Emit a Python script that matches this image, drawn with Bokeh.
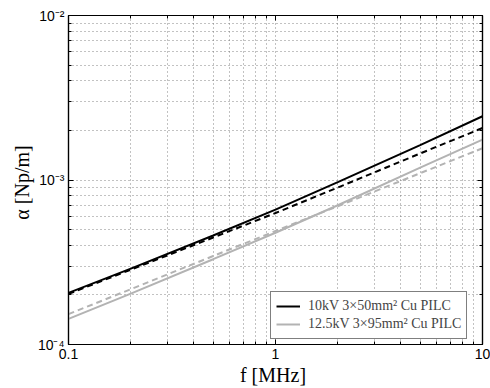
from bokeh.plotting import figure
from bokeh.models import FixedTicker, CustomJSTickFormatter, Legend, LegendItem, LogAxis
from bokeh.embed import file_html
from bokeh.resources import INLINE

# Data (frequency in MHz, attenuation in Np/m)
freq = [0.1, 0.2, 0.5, 1, 2, 5, 10]
a_10kv_solid = [2.06e-4, 2.89e-4, 4.60e-4, 6.6e-4, 9.7e-4, 1.63e-3, 2.44e-3]
a_10kv_dashed = [2.03e-4, 2.85e-4, 4.47e-4, 6.3e-4, 9.0e-4, 1.45e-3, 2.07e-3]
a_12kv_solid = [1.43e-4, 2.04e-4, 3.30e-4, 4.78e-4, 7.02e-4, 1.19e-3, 1.76e-3]
a_12kv_dashed = [1.53e-4, 2.17e-4, 3.45e-4, 4.90e-4, 6.93e-4, 1.10e-3, 1.56e-3]

x_ticks = [0.1, 1, 10]
x_minor = [0.2, 0.3, 0.4, 0.5, 0.6, 0.7, 0.8, 0.9, 2, 3, 4, 5, 6, 7, 8, 9]
y_ticks = [1e-4, 1e-3, 1e-2]
y_minor = [k * 1e-4 for k in range(2, 10)] + [k * 1e-3 for k in range(2, 10)]

labels = ["10kV 3×50mm² Cu PILC", "12.5kV 3×95mm² Cu PILC"]

GRAY = "#b3b3b3"

p = figure(width=490, height=388, x_axis_type="log", y_axis_type="log",
           x_range=(0.1, 10), y_range=(1e-4, 1e-2),
           output_backend="svg", toolbar_location=None,
           min_border_left=68, min_border_right=8, min_border_top=15, min_border_bottom=10)
p.background_fill_color = "white"
p.border_fill_color = "white"
p.outline_line_color = "black"
p.outline_line_width = 1.2

r1 = p.line(freq, a_10kv_solid, line_color="black", line_width=2)
p.line(freq, a_10kv_dashed, line_color="black", line_width=2, line_dash="6 4")
r2 = p.line(freq, a_12kv_solid, line_color=GRAY, line_width=2)
p.line(freq, a_12kv_dashed, line_color=GRAY, line_width=2, line_dash="6 4")

xt = FixedTicker(ticks=x_ticks, minor_ticks=x_minor)
yt = FixedTicker(ticks=y_ticks, minor_ticks=y_minor)

xfmt = CustomJSTickFormatter(code="return String(Math.round(tick*10)/10);")
yfmt = CustomJSTickFormatter(code="""
const e = Math.round(Math.log10(tick));
const sup = {'-':'\u207b','0':'\u2070','1':'\u00b9','2':'\u00b2','3':'\u00b3','4':'\u2074'};
return '10' + String(e).split('').map(c => sup[c]).join('');
""")

for ax, t, f in ((p.xaxis[0], xt, xfmt), (p.yaxis[0], yt, yfmt)):
    ax.ticker = t
    ax.formatter = f
    ax.major_tick_in = 5
    ax.major_tick_out = 0
    ax.minor_tick_in = 3
    ax.minor_tick_out = 0
    ax.axis_line_color = "black"
    ax.axis_line_width = 1.2
    ax.major_label_text_font = "Liberation Sans"
    ax.major_label_text_font_size = "14px"
    ax.major_label_text_color = "black"
    ax.axis_label_text_font = "Liberation Serif"
    ax.axis_label_text_font_style = "normal"
    ax.axis_label_text_font_size = "20px"
    ax.axis_label_text_color = "black"

p.xaxis[0].axis_label = "f  [MHz]"
p.yaxis[0].axis_label = "α  [Np/m]"
p.xaxis[0].major_label_standoff = 4
p.xaxis[0].axis_label_standoff = 2
p.yaxis[0].major_label_standoff = 4
p.yaxis[0].axis_label_standoff = 2

# top and right tick marks (labels hidden)
for loc, t in (("above", xt), ("right", yt)):
    ax = LogAxis(ticker=t, major_tick_in=5, major_tick_out=0, minor_tick_in=3, minor_tick_out=0,
                 major_label_text_font_size="1px", major_label_text_alpha=0,
                 axis_line_color="black", axis_line_width=1.2,
                 major_label_standoff=0)
    p.add_layout(ax, loc)

for g, t in ((p.xgrid[0], xt), (p.ygrid[0], yt)):
    g.ticker = t
    g.grid_line_color = "#666666"
    g.grid_line_dash = "1 3"
    g.grid_line_width = 0.8
    g.minor_grid_line_color = "#666666"
    g.minor_grid_line_dash = "1 3"
    g.minor_grid_line_width = 0.8

legend = Legend(items=[LegendItem(label=labels[0], renderers=[r1]),
                       LegendItem(label=labels[1], renderers=[r2])],
                location=(202, 5), margin=0, padding=5, spacing=0,
                label_text_font="Liberation Serif", label_text_font_size="14px",
                label_height=18, glyph_height=18, glyph_width=24, label_standoff=8,
                border_line_color="black", border_line_width=1.2,
                background_fill_color="white", background_fill_alpha=1)
p.add_layout(legend)

open("out.html", "w").write(file_html(p, INLINE))
